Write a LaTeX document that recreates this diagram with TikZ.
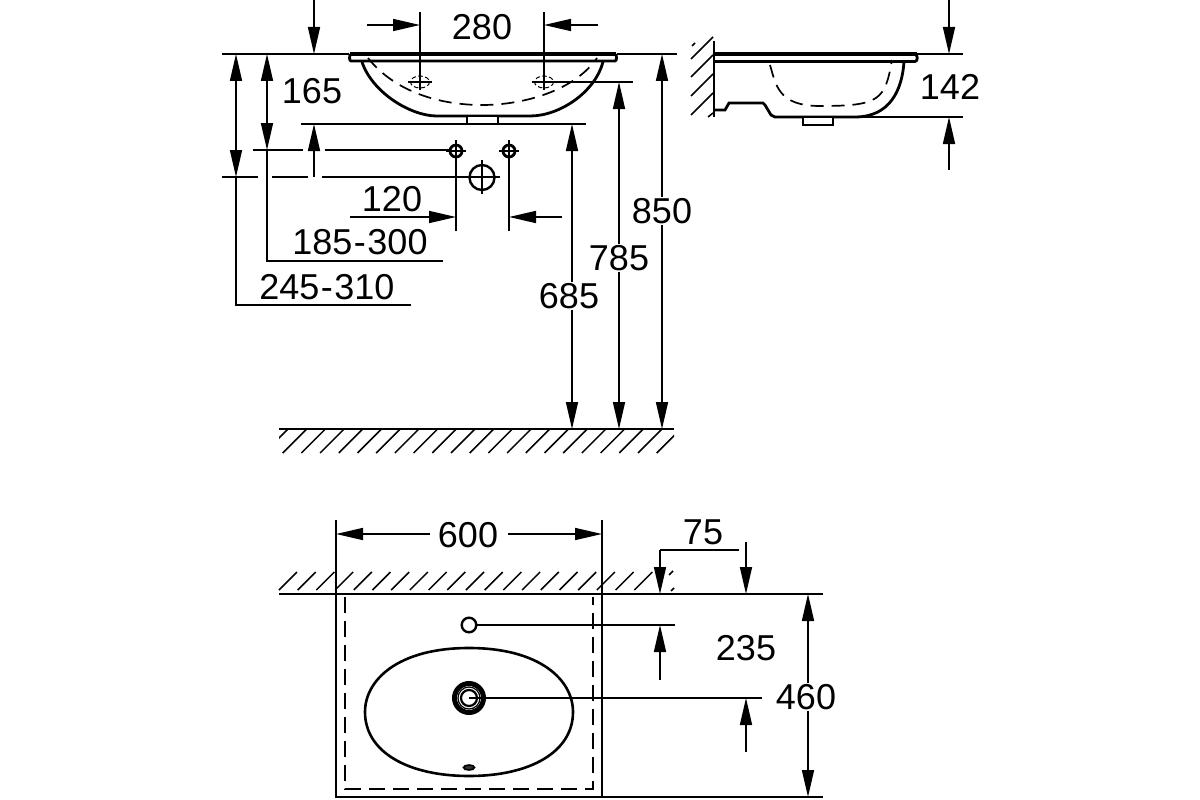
\documentclass[tikz,border=0pt]{standalone}
\usepackage{fontspec}
\setmainfont{Liberation Sans}
\usetikzlibrary{arrows.meta}
\tikzset{
  ln/.style={line width=1.6pt,black},
  thick1/.style={line width=2.8pt,black},
  heavy/.style={line width=4pt,black},
  hatch/.style={line width=1.5pt,black},
  dsh/.style={line width=1.7pt,black,dash pattern=on 13pt off 8pt},
  dim/.style={ln,-{Triangle[length=27pt,width=12pt]}},
  dimb/.style={ln,{Triangle[length=27pt,width=12pt]}-{Triangle[length=27pt,width=12pt]}},
  lab/.style={font=\fontsize{36}{36}\selectfont,inner sep=1pt,fill=white},
  labn/.style={font=\fontsize{36}{36}\selectfont,inner sep=0pt},
}
\newcommand{\hy}{\kern1.5pt-\kern1.5pt}
\begin{document}
\begin{tikzpicture}[x=1pt,y=-1pt]
\useasboundingbox (0,0) rectangle (1200,800);
\fill[white] (0,0) rectangle (1200,800);
% ---- front view
\foreach \a/\b in {222/349,617/677} \draw[ln] (\a,54)--(\b,54);
\draw[ln] (301,124)--(586,124);
\draw[thick1,fill=white] (351,54.5) -- (615,54.5) .. controls (617,54.5) and (617,61) .. (615,61) -- (351,61) .. controls (349,61) and (349,54.5) .. (351,54.5) -- cycle;
\draw[heavy] (350,54.5)--(616,54.5);
\draw[thick1] (362,62) .. controls (372,92) and (410,116) .. (437,116) -- (530,116) .. controls (560,116) and (595,92) .. (603,62);
\draw[thick1,fill=white] (467,117)--(467,124)--(498,124)--(498,117);
\draw[dsh] (368,58) .. controls (395,92) and (440,105) .. (482,105) .. controls (525,105) and (575,90) .. (597,58);
\foreach \x in {420,544} {
  \draw[line width=1pt,black,dash pattern=on 4.5pt off 2.5pt] (\x,82) ellipse (9.5 and 6);
  \draw[line width=1.1pt,black] (\x-12,82)--(\x+12,82);
  \draw[ln] (\x,12)--(\x,90);
}
\draw[ln] (556,82)--(633,82);
\coordinate (a1) at (420,25); \coordinate (a2) at (544,25);
\draw[dim] (367,25)--(a1);
\draw[dim] (598,25)--(a2);
\node[labn] (t280) at (482,27) {280};
% 165
\draw[dim] (314,0)--(314,54);
\draw[dim] (314,177)--(314,124);
\draw[ln] (253,150)--(303,150) (325,150)--(450,150);
\draw[ln] (222,177)--(258,177) (272,177)--(308,177) (322,177)--(500,177);
\node[labn] (t165) at (312,91) {165};
% holes
\foreach \x in {456,509} {
  \draw[thick1,fill=white] (\x,151) circle (6);
  \draw[line width=1.3pt,black] (\x-10,151)--(\x+10,151);
  \draw[line width=1.3pt,black] (\x,140)--(\x,161);
  \draw[ln] (\x,161)--(\x,231);
}
\draw[line width=2.4pt,black] (482,177.5) circle (12.5);
\draw[ln] (482,160)--(482,194);
\draw[dim] (350,217)--(456,217);
\draw[dim] (562,217)--(509,217);
\node[labn] (t120) at (392,199) {120};
% 185-300, 245-310
\draw[dimb] (267,54)--(267,150);
\draw[ln] (267,150)--(267,261)--(443,261);
\draw[dimb] (236,54)--(236,177);
\draw[ln] (236,177)--(236,305)--(411,305);
\node[labn] (t185) at (360,242) {185\hy 300};
\node[labn] (t245) at (327,287) {245\hy 310};
% heights
\draw[dimb] (572,124)--(572,429);
\draw[dimb] (619,82)--(619,429);
\draw[dimb] (662,54)--(662,429);
\node[lab] (t685) at (569,296) {685};
\node[lab] (t785) at (619,258) {785};
\node[lab] (t850) at (662,211) {850};
% ground
\begin{scope}
\clip (279,429) rectangle (674,454);
\foreach \k in {0,...,21} \draw[hatch] (288+18.7*\k,429)--(264+18.7*\k,453);
\end{scope}
\draw[line width=2.4pt,black] (279,429)--(674,429);
% ---- side view
\foreach \ya in {59,77,96,115} {
  \draw[hatch] (691,\ya)--(713,\ya-22);
}
\draw[hatch] (692,46)--(695,43);
\draw[hatch] (708,117)--(713,113);
\draw[line width=2.4pt,black] (714,41)--(714,117);
\draw[ln] (917,54)--(963,54);
\draw[ln] (863,117)--(963,117);
\draw[thick1] (714,61.5)--(915,61.5) .. controls (918,61.5) and (918,54.5) .. (915,54.5);
\draw[heavy] (714,54.5)--(917,54.5);
\draw[thick1] (904,62) .. controls (902,90) and (890,117) .. (855,117) -- (775,117) -- (771,115) -- (765,105) -- (763,103) -- (729,103) -- (725,110) -- (714,110);
\draw[thick1,fill=white] (803,118)--(803,125)--(833,125)--(833,118);
\draw[dsh] (770,65) .. controls (776,85) and (778,106) .. (820,106) .. controls (880,106) and (885,100) .. (892,60);
\draw[dim] (949,0)--(949,54);
\draw[dim] (949,170)--(949,117);
\node[labn] (t142) at (950,87) {142};
% ---- plan view
\draw[ln] (336,520)--(336,594);
\draw[ln] (602,520)--(602,594);
\foreach \k in {0,...,19} \draw[hatch] (297+18.7*\k,572)--(279+18.7*\k,590);
\draw[hatch] (673,571)--(669,575);
\draw[hatch] (674,588)--(671,591);
\draw[line width=2.4pt,black] (279,594)--(674,594);
\draw[ln] (674,594)--(823,594);
\draw[dim] (430,534)--(336,534);
\draw[dim] (508,534)--(602,534);
\node[labn] (t600) at (468,535) {600};
\draw[line width=2.8pt,black] (336,594)--(336,797)--(602,797)--(602,594);
\draw[dsh,dash pattern=on 16pt off 8pt] (345,597)--(345,789)--(593,789)--(593,597);
% basin
\draw[line width=2.6pt,black] (469,648) .. controls (540,648) and (573,680) .. (573,712) .. controls (573,752) and (530,776) .. (469,776) .. controls (408,776) and (365,752) .. (365,712) .. controls (365,680) and (398,648) .. (469,648) -- cycle;
\draw[line width=2.4pt,black] (469,625) circle (7.3);
\draw[ln] (477,625)--(675,625);
\draw[line width=5pt,black] (469,698) circle (14.5);
\draw[line width=1.2pt,black] (469,698) circle (11);
\draw[line width=2.2pt,black] (469,698) circle (8);
\draw[ln] (469,698)--(762,698);
\draw[line width=1.6pt,black,fill=black!80] (469,767.5) ellipse (5.5 and 2.5);
\draw[dim] (660,680)--(660,625);
\draw[dim] (746,752)--(746,698);
\node[labn] (t235) at (746,648) {235};
\draw[ln] (602,797)--(823,797);
\draw[dimb] (808,594)--(808,797);
\node[lab] (t460) at (806,697) {460};
\draw[ln] (739,550)--(660,550);
\draw[dim] (660,550)--(660,594);
\draw[dim] (746,542)--(746,594);
\node[labn] (t75) at (703,532) {75};
\end{tikzpicture}
\end{document}
